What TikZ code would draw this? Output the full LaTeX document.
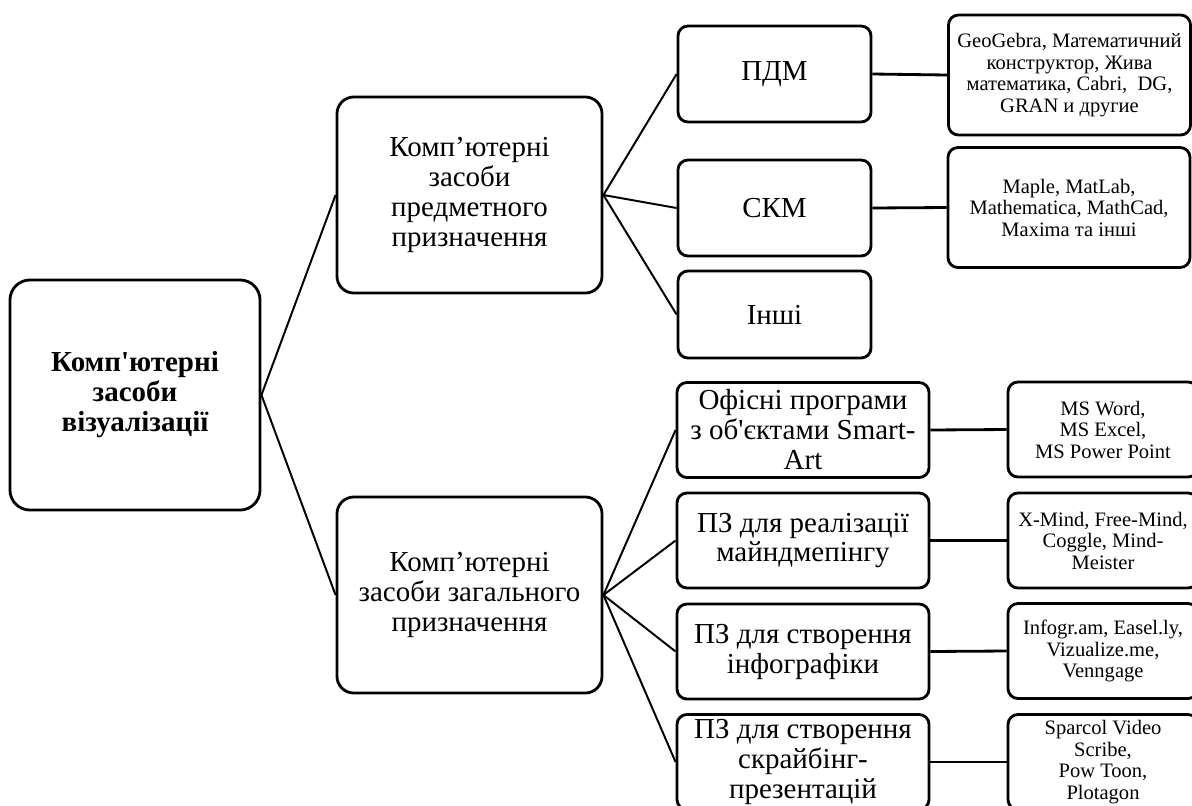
\documentclass[tikz,border=0pt]{standalone}
\usepackage{fontspec}
\setmainfont{Liberation Serif}[Ligatures=TeXOff]
\begin{document}
\begin{tikzpicture}[x=0.025cm,y=-0.025cm,
    box/.style={draw,line width=2pt,rounded corners=0.25cm,align=center,inner sep=0pt},
    big/.style={box,font=\fontsize{20.6}{21.3}\selectfont},
    small/.style={box,font=\fontsize{14.6}{15.3}\selectfont},
    topbox/.style={big,font=\fontsize{20.6}{21.3}\selectfont\bfseries,rounded corners=0.5cm,
      minimum width=6.25cm,minimum height=5.75cm},
    grp/.style={big,rounded corners=0.42cm,minimum width=6.625cm,minimum height=4.9cm},
    kind/.style={big,minimum width=4.825cm,minimum height=2.4cm},
    gen/.style={big,minimum width=6.3cm,minimum height=2.375cm},
    soft/.style={small,minimum width=6.05cm,minimum height=3cm},
    app/.style={small,minimum width=4.75cm,minimum height=2.375cm},
    wire/.style={line width=1.4pt},
    hwire/.style={line width=2pt},
  ]
  \useasboundingbox (0,0) rectangle (1192,805);
  \node[topbox] (vis) at (135,395) {Комп'ютерні\\засоби\\візуалізації};
  \node[grp] (pred) at (469.5,195) {Комп’ютерні\\засоби\\предметного\\призначення};
  \node[grp] (zag) at (469.5,595) {Комп’ютерні\\засоби загального\\призначення};
  % subject tools
  \node[kind] (pdm) at (774.5,74) {ПДМ};
  \node[kind] (skm) at (774.5,208) {СКМ};
  \node[kind,minimum height=2.175cm] (inshi) at (774.5,314.5) {Інші};
  \node[soft] (geo) at (1069.5,75) {GeoGebra, Математичний\\конструктор, Жива\\математика, Cabri, \ DG,\\GRAN и другие};
  \node[soft] (maple) at (1069,207.5) {Maple, MatLab,\\Mathematica, MathCad,\\Maxima та інші};
  % general tools
  \node[gen] (office) at (803,430) {Офісні програми\\з об'єктами Smart-\\Art};
  \node[gen] (mind) at (803,540.5) {ПЗ для реалізації\\майндмепінгу};
  \node[gen] (info) at (803,651.5) {ПЗ для створення\\інфографіки};
  \node[gen] (scribe) at (803,762) {ПЗ для створення\\скрайбінг-\\презентацій};
  \node[app] (word) at (1103,429.5) {MS Word,\\MS Excel,\\MS Power Point};
  \node[app] (xmind) at (1103,540.5) {X-Mind, Free-Mind,\\Coggle, Mind-\\Meister};
  \node[app] (infogr) at (1103,651) {Infogr.am, Easel.ly,\\Vizualize.me,\\Venngage};
  \node[app] (sparcol) at (1103,762) {Sparcol Video\\Scribe,\\Pow Toon,\\Plotagon};
  % links
  \draw[wire] (vis.east) -- (pred.west);
  \draw[wire] (vis.east) -- (zag.west);
  \foreach \n in {pdm,skm,inshi}
    \draw[wire] (pred.east) -- (\n.west);
  \foreach \n in {office,mind,info,scribe}
    \draw[wire] (zag.east) -- (\n.west);
  \draw[hwire] (pdm.east) -- (geo.west);
  \draw[hwire] (skm.east) -- (maple.west);
  \draw[hwire] (office.east) -- (word.west);
  \draw[hwire] (mind.east) -- (xmind.west);
  \draw[hwire] (info.east) -- (infogr.west);
  \draw[hwire] (scribe.east) -- (sparcol.west);
\end{tikzpicture}
\end{document}
